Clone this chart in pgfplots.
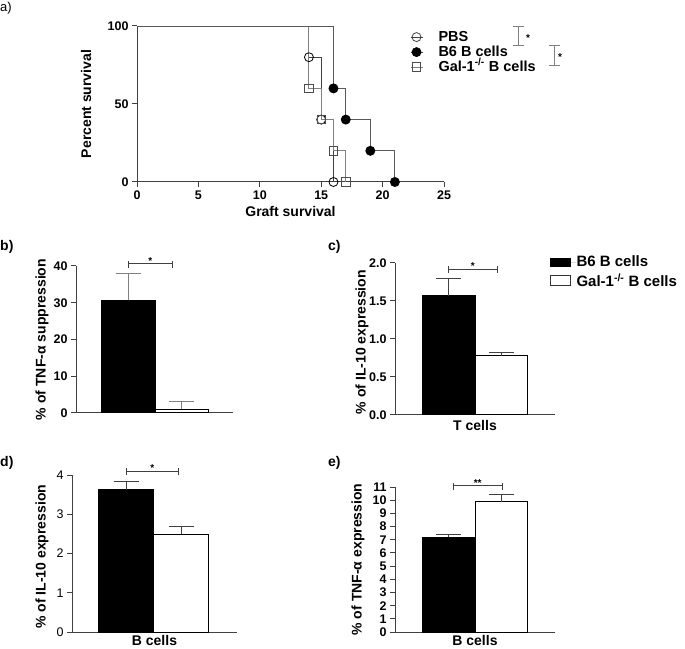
\documentclass[border=0pt]{standalone}
\usepackage{pgfplots}
\pgfplotsset{compat=1.18}
\usepackage{fontspec}
\setmainfont{Liberation Sans}
\newcommand{\sigbar}[5]{%
  \draw[black!75, line width=0.9pt] ([yshift=-4pt]axis cs:#1,#3) -- ([yshift=3pt]axis cs:#1,#3)
     ([yshift=-4pt]axis cs:#2,#3) -- ([yshift=3pt]axis cs:#2,#3)
     (axis cs:#1,#3) -- (axis cs:#2,#3);
  \node[font=\bfseries\fontsize{10}{10}\selectfont, anchor=base, inner sep=0pt, yshift=-0.5pt] at (axis cs:#4,#3) {#5};}
\begin{document}
\begin{tikzpicture}[x=1pt,y=1pt]
\path[use as bounding box] (0,0) rectangle (685,648);
\pgfplotsset{
  every axis/.append style={scale only axis, axis lines*=left, tick align=outside,
    major tick length=5pt, clip=false,
    axis line style={line width=1pt, color=black!75},
    tick style={line width=1pt, color=black!75},
    /pgf/number format/assume math mode=true,
    tick label style={font=\bfseries\fontsize{12.5}{12.5}\selectfont},
    label style={font=\bfseries\fontsize{14}{14}\selectfont},
    ylabel style={anchor=center},
  },
  sbar/.style={ybar, bar width=1, bar shift=0pt, line width=1pt, draw=black},
  ebar/.style={error bars/.cd, y dir=plus, y explicit,
    error bar style={line width=1pt, color=#1},
    error mark options={rotate=90, mark size=12.5pt, line width=1pt, color=#1}},
}
% ---------------- panel a
\begin{axis}[at={(137pt,466pt)}, anchor=south west, width=307pt, height=156pt,
  xmin=0, xmax=25, ymin=0, ymax=100, xtick={0,5,10,15,20,25}, ytick={0,50,100},
  xlabel={Graft survival}, ylabel={Percent survival},
  xlabel style={at={(axis description cs:0.5,-0.19)}, anchor=center},
  ylabel style={at={(axis description cs:-0.166,0.5)}},
  legend style={at={(0.889,0.975)}, anchor=north west, draw=none, fill=none,
    font=\bfseries\fontsize{14.5}{14.5}\selectfont, row sep=1pt, inner sep=0pt,
    nodes={inner sep=0pt, text height=11pt, text depth=3pt}},
  legend cell align=left,
  legend image code/.code={\draw[mark repeat=2,mark phase=2,#1] plot coordinates {(0pt,0pt) (6pt,0pt) (12pt,0pt)}; \path[draw=none] (0pt,0pt) -- (28pt,0pt);},
]
\addplot[const plot, forget plot, color=black!75, line width=0.9pt, mark=o, mark size=4.5pt,
  mark indices={2,3,4}, mark options={black, fill=white, line width=0.8pt}]
  coordinates {(0,100) (14,80) (15,40) (16,0)};
\addplot[const plot, forget plot, color=gray, line width=0.9pt, mark=square, mark size=4.2pt,
  mark indices={2,3,4,5}, mark options={black!70, fill=white, line width=0.8pt}]
  coordinates {(0,100) (14,60) (15,40) (16,20) (17,0)};
\addplot[const plot, forget plot, color=black!65, line width=0.9pt, mark=*, mark size=4.5pt,
  mark indices={2,3,4,5}, mark options={black, fill=black}]
  coordinates {(0,100) (16,60) (17,40) (19,20) (21,0)};
\addlegendimage{black!75, line width=0.8pt, mark=o, mark size=4.5pt, mark options={fill=white}}
\addlegendentry{PBS}
\addlegendimage{black!75, line width=0.8pt, mark=*, mark size=4.5pt, mark options={black}}
\addlegendentry{B6 B cells}
\addlegendimage{gray, line width=0.8pt, mark=square, mark size=4.2pt, mark options={black!70,fill=white}}
\addlegendentry{Gal-1\textsuperscript{-/-} B cells}
\end{axis}
% legend significance brackets
\draw[gray, line width=0.9pt] (513,622) -- (524,622) (518,622) -- (518,603) (513,603) -- (524,603);
\node[font=\bfseries\fontsize{10}{10}\selectfont, inner sep=0pt] at (528,610) {*};
\draw[gray, line width=0.9pt] (549,603) -- (560,603) (554,603) -- (554,583) (549,583) -- (560,583);
\node[font=\bfseries\fontsize{10}{10}\selectfont, inner sep=0pt] at (560,591) {*};
% ---------------- panel b
\begin{axis}[at={(76pt,235pt)}, anchor=south west, width=157pt, height=147pt,
  xmin=-0.99, xmax=1.97, ymin=0, ymax=40, ytick={0,10,20,30,40}, xtick=\empty,
  ylabel={\% of TNF-α suppression},
  ylabel style={at={(axis description cs:-0.217,0.5)}},
]
\addplot[sbar, fill=black, ebar=gray] coordinates {(0,30.7) +- (0,7.3)};
\addplot[sbar, fill=white, ebar=gray] coordinates {(1,1.0) +- (0,2.2)};
\sigbar{0}{0.82}{40.6}{0.41}{*}
\end{axis}
% ---------------- panel c
\begin{axis}[at={(395pt,233pt)}, anchor=south west, width=160pt, height=152pt,
  xmin=-1.01, xmax=2.01, ymin=0, ymax=2, ytick={0,0.5,1,1.5,2}, xtick=\empty,
  yticklabel style={/pgf/number format/.cd, fixed, fixed zerofill, precision=1},
  xlabel={T cells},
  xlabel style={at={(axis description cs:0.5,0)}, anchor=north, yshift=-2pt},
  ylabel={\% of IL-10 expression},
  ylabel style={at={(axis description cs:-0.206,0.48)}},
  legend style={at={(0.965,1.05)}, anchor=north west, draw=none, fill=none,
    font=\bfseries\fontsize{15}{15}\selectfont, row sep=4pt, inner sep=0pt,
    nodes={inner sep=0.5pt}},
  legend cell align=left,
]
\addplot[sbar, fill=black,
  legend image code/.code={\draw[fill=black, draw=black, line width=0.8pt] (0pt,-4pt) rectangle (20pt,4pt); \path[draw=none] (0pt,0pt) -- (26pt,0pt);},
  ebar=black!75]
  coordinates {(0,1.57) +- (0,0.22)};
\addlegendentry{B6 B cells}
\addplot[sbar, fill=white,
  legend image code/.code={\draw[fill=white, draw=black!80, line width=0.8pt] (0pt,-5pt) rectangle (20pt,5pt); \path[draw=none] (0pt,0pt) -- (26pt,0pt);},
  ebar=black!75]
  coordinates {(1,0.78) +- (0,0.04)};
\addlegendentry{Gal-1\textsuperscript{-/-} B cells}
\sigbar{0}{0.93}{1.92}{0.46}{*}
\end{axis}
% ---------------- panel d
\begin{axis}[at={(72pt,16pt)}, anchor=south west, width=165pt, height=157pt,
  xmin=-0.99, xmax=2.01, ymin=0, ymax=4, ytick={0,1,2,3,4}, xtick=\empty,
  tick label style={font=\fontsize{12.5}{12.5}\selectfont},
  xlabel={B cells},
  xlabel style={at={(axis description cs:0.5,0)}, anchor=north, yshift=0pt},
  ylabel={\% of IL-10 expression},
  ylabel style={at={(axis description cs:-0.182,0.48)}},
]
\addplot[sbar, fill=black, ebar=black!75] coordinates {(0,3.63) +- (0,0.2)};
\addplot[sbar, fill=white, ebar=black!75] coordinates {(1,2.49) +- (0,0.2)};
\sigbar{0}{0.95}{4.1}{0.47}{*}
\end{axis}
% ---------------- panel e
\begin{axis}[at={(395pt,16pt)}, anchor=south west, width=160pt, height=145pt,
  xmin=-1.01, xmax=2.01, ymin=0, ymax=11, ytick={0,1,...,11}, xtick=\empty,
  xlabel={B cells},
  xlabel style={at={(axis description cs:0.5,0)}, anchor=north, yshift=0pt},
  ylabel={\% of TNF-α expression},
  ylabel style={at={(axis description cs:-0.231,0.5)}},
]
\addplot[sbar, fill=black, ebar=black!75] coordinates {(0,7.2) +- (0,0.22)};
\addplot[sbar, fill=white, ebar=black!75] coordinates {(1,9.9) +- (0,0.5)};
\sigbar{0.1}{1.01}{11.1}{0.55}{**}
\end{axis}
% ---------------- panel letters
\node[anchor=west, inner sep=0pt, font=\fontsize{13}{13}\selectfont] at (0,640) {a)};
\node[anchor=west, inner sep=0pt, font=\bfseries\fontsize{14}{14}\selectfont] at (0,401) {b)};
\node[anchor=west, inner sep=0pt, font=\bfseries\fontsize{14}{14}\selectfont] at (328,401) {c)};
\node[anchor=west, inner sep=0pt, font=\bfseries\fontsize{14}{14}\selectfont] at (0,185) {d)};
\node[anchor=west, inner sep=0pt, font=\bfseries\fontsize{14}{14}\selectfont] at (328,185) {e)};
\end{tikzpicture}
\end{document}
